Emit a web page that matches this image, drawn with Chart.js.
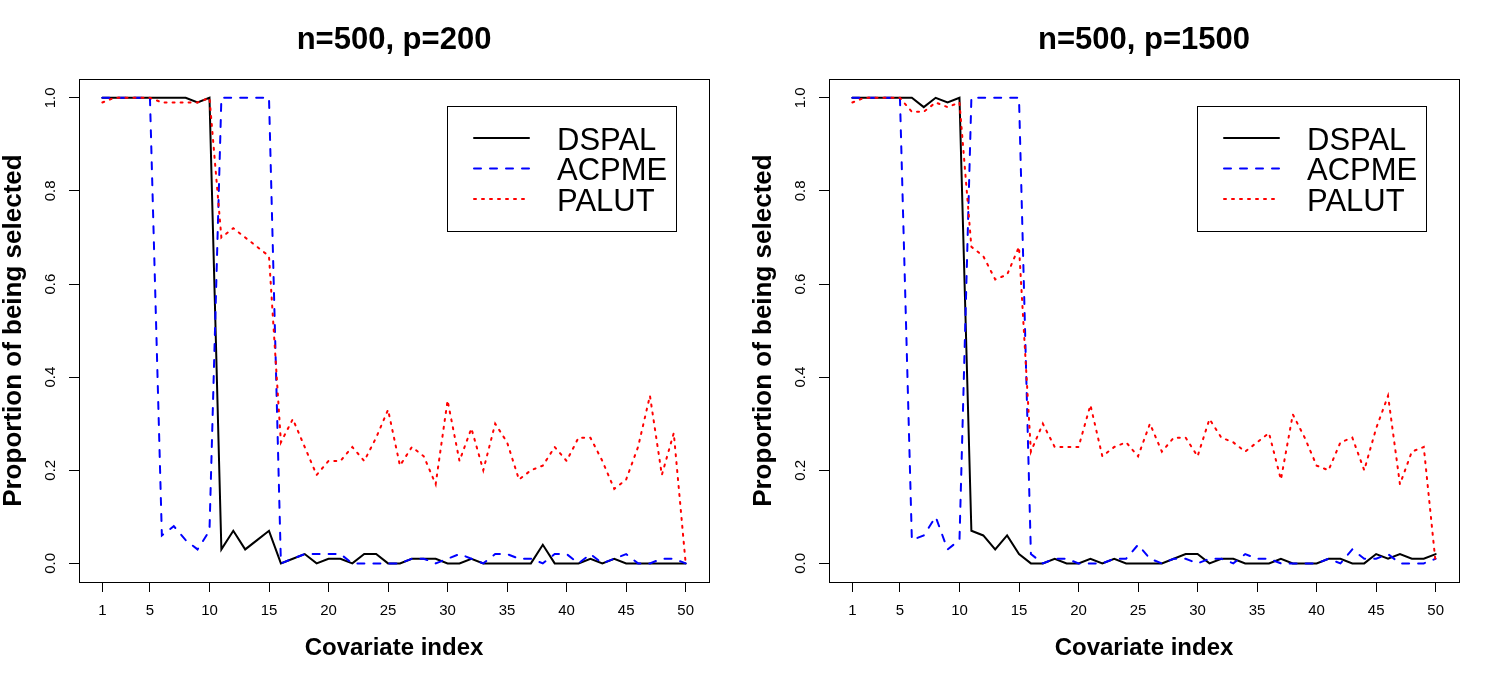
<!DOCTYPE html>
<html><head><meta charset="utf-8">
<script src="https://cdn.jsdelivr.net/npm/chart.js@4.4.1/dist/chart.umd.min.js"></script>
<style>
html,body{margin:0;padding:0;background:#fff;}
#wrap{position:relative;width:1500px;height:680px;overflow:hidden;}
.pane{position:absolute;top:0;width:750px;height:680px;}
</style></head><body>
<div id="wrap">
<div class="pane" style="left:0"><canvas id="c1" width="750" height="680"></canvas></div>
<div class="pane" style="left:750px"><canvas id="c2" width="750" height="680"></canvas></div>
</div>
<script>
const covariateIndex = [1,2,3,4,5,6,7,8,9,10,11,12,13,14,15,16,17,18,19,20,21,22,23,24,25,26,27,28,29,30,31,32,33,34,35,36,37,38,39,40,41,42,43,44,45,46,47,48,49,50];
const xTickValues = [1,5,10,15,20,25,30,35,40,45,50];
const yTickValues = [0,0.2,0.4,0.6,0.8,1.0];
const seriesNames = ['DSPAL','ACPME','PALUT'];
const panelTitles = ['n=500, p=200','n=500, p=1500'];
const xAxisTitle = 'Covariate index';
const yAxisTitle = 'Proportion of being selected';

const dspal200 = [1,1,1,1,1,1,1,1,0.99,1, 0.03,0.07,0.03,0.05,0.07, 0,0.01,0.02,0,0.01, 0.01,0,0.02,0.02,0, 0,0.01,0.01,0.01,0, 0,0.01,0,0,0, 0,0,0.04,0,0, 0,0.01,0,0.01,0, 0,0,0,0,0];
const acpme200 = [1,1,1,1,1,0.06,0.08,0.05,0.03,0.07, 1,1,1,1,1, 0,0.01,0.02,0.02,0.02, 0.02,0,0,0,0, 0,0.01,0.01,0,0.01, 0.02,0.01,0,0.02,0.02, 0.01,0.01,0,0.02,0.02, 0,0.02,0,0.01,0.02, 0,0,0.01,0.01,0];
const palut200 = [0.99,1,1,1,1,0.99,0.99,0.99,0.99,1, 0.70,0.72,0.70,0.68,0.66, 0.26,0.31,0.25,0.19,0.22, 0.22,0.25,0.22,0.27,0.33, 0.21,0.25,0.23,0.17,0.35, 0.22,0.29,0.20,0.30,0.26, 0.18,0.20,0.21,0.25,0.22, 0.27,0.27,0.22,0.16,0.18, 0.25,0.36,0.19,0.28,0];

const dspal1500 = [1,1,1,1,1,1,0.98,1,0.99,1, 0.07,0.06,0.03,0.06,0.02, 0,0,0.01,0,0, 0.01,0,0.01,0,0, 0,0,0.01,0.02,0.02, 0,0.01,0.01,0,0, 0,0.01,0,0,0, 0.01,0.01,0,0,0.02, 0.01,0.02,0.01,0.01,0.02];
const acpme1500 = [1,1,1,1,1,0.05,0.06,0.10,0.03,0.05, 1,1,1,1,1, 0.02,0,0.01,0.01,0, 0,0,0.01,0.01,0.04, 0.01,0,0.01,0.01,0, 0.01,0.01,0,0.02,0.01, 0.01,0,0,0,0, 0.01,0,0.03,0.01,0.01, 0.02,0,0,0,0.01];
const palut1500 = [0.99,1,1,1,1,0.97,0.97,0.99,0.98,0.99, 0.68,0.66,0.61,0.62,0.68, 0.24,0.30,0.25,0.25,0.25, 0.34,0.23,0.25,0.26,0.23, 0.30,0.24,0.27,0.27,0.23, 0.31,0.27,0.26,0.24,0.26, 0.28,0.18,0.32,0.27,0.21, 0.20,0.26,0.27,0.20,0.29, 0.36,0.17,0.24,0.25,0];

Chart.defaults.font.family = '"Liberation Sans", Arial, Helvetica, sans-serif';
Chart.defaults.color = '#000';

const framePlugin = {
  id: 'rframe',
  afterDatasetsDraw(chart) {
    const {ctx, chartArea: a} = chart;
    ctx.save();
    ctx.strokeStyle = '#000';
    ctx.lineWidth = 1;
    ctx.strokeRect(Math.round(a.left) + 0.5, Math.round(a.top) + 0.5, Math.round(a.right - a.left), Math.round(a.bottom - a.top));
    ctx.restore();
  }
};

const legendPlugin = {
  id: 'rlegend',
  afterDraw(chart) {
    const {ctx, chartArea: a} = chart;
    const x0 = Math.round(a.left) + 368, y0 = Math.round(a.top) + 27;
    ctx.save();
    ctx.fillStyle = '#fff';
    ctx.fillRect(x0, y0, 229, 125);
    ctx.strokeStyle = '#000';
    ctx.lineWidth = 1;
    ctx.strokeRect(x0 + 0.5, y0 + 0.5, 229, 125);
    chart.data.datasets.forEach((ds, i) => {
      const ly = y0 + 32 + i * 30.5;
      ctx.beginPath();
      ctx.setLineDash(ds.borderDash || []);
      ctx.lineCap = ds.borderCapStyle || 'butt';
      ctx.strokeStyle = ds.borderColor;
      ctx.lineWidth = ds.borderWidth;
      ctx.moveTo(x0 + 27, ly);
      ctx.lineTo(x0 + 82, ly);
      ctx.stroke();
      ctx.setLineDash([]);
      ctx.fillStyle = '#000';
      ctx.font = '31px "Liberation Sans", Arial, sans-serif';
      ctx.textBaseline = 'alphabetic';
      ctx.textAlign = 'left';
      ctx.fillText(ds.label, x0 + 110, ly + 11.5);
    });
    ctx.restore();
  }
};

function makeChart(id, title, d1, d2, d3) {
  const pts = arr => arr.map((v, i) => ({x: covariateIndex[i], y: v}));
  return new Chart(document.getElementById(id), {
    type: 'line',
    data: {
      datasets: [
        {label: seriesNames[0], data: pts(d1), borderColor: '#000000', borderWidth: 2, borderDash: [], borderCapStyle: 'round', pointRadius: 0, tension: 0, fill: false, order: 3},
        {label: seriesNames[1], data: pts(d2), borderColor: '#0000ff', borderWidth: 2, borderDash: [7, 9], borderCapStyle: 'round', pointRadius: 0, tension: 0, fill: false, order: 2},
        {label: seriesNames[2], data: pts(d3), borderColor: '#ff0000', borderWidth: 2, borderDash: [2, 6], borderCapStyle: 'round', pointRadius: 0, tension: 0, fill: false, order: 1}
      ]
    },
    options: {
      responsive: false,
      devicePixelRatio: 1,
      animation: false,
      layout: {padding: {left: 0, right: 41, top: 0, bottom: 0}},
      plugins: {
        legend: {display: false},
        tooltip: {enabled: false},
        title: {display: true, text: title, fullSize: false, color: '#000',
          font: {size: 31, weight: 'bold'}, padding: {top: 22, bottom: 20}}
      },
      scales: {
        x: {
          type: 'linear', min: -0.96, max: 51.96,
          afterBuildTicks: s => { s.ticks = xTickValues.map(v => ({value: v})); },
          afterFit: s => { s.height = 98; },
          ticks: {autoSkip: false, maxRotation: 0, minRotation: 0, padding: 10, font: {size: 15}, color: '#000',
            callback: v => String(v)},
          grid: {drawOnChartArea: false, drawTicks: true, tickLength: 10, color: '#000', lineWidth: 1},
          border: {display: false},
          title: {display: true, text: xAxisTitle, color: '#000', font: {size: 24, weight: 'bold'}, padding: {top: 0, bottom: 17}}
        },
        y: {
          type: 'linear', min: -0.04, max: 1.04,
          afterBuildTicks: s => { s.ticks = yTickValues.map(v => ({value: v})); },
          afterFit: s => { s.width = 79; },
          ticks: {autoSkip: false, minRotation: 90, maxRotation: 90, crossAlign: 'center', padding: 8, font: {size: 15}, color: '#000',
            callback: v => Number(v).toFixed(1)},
          grid: {drawOnChartArea: false, drawTicks: true, tickLength: 10, color: '#000', lineWidth: 1},
          border: {display: false},
          title: {display: true, text: yAxisTitle, color: '#000', font: {size: 26, weight: 'bold', lineHeight: 1.1}, padding: {top: 0, bottom: 0}}
        }
      }
    },
    plugins: [framePlugin, legendPlugin]
  });
}

makeChart('c1', panelTitles[0], dspal200, acpme200, palut200);
makeChart('c2', panelTitles[1], dspal1500, acpme1500, palut1500);
</script>
</body></html>
